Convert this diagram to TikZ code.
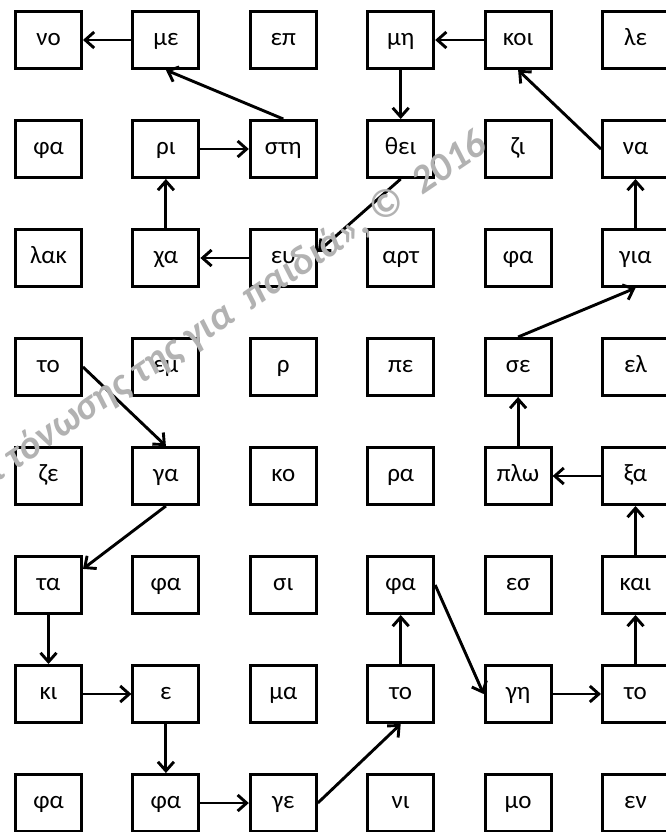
\documentclass[tikz,border=0pt]{standalone}
\usepackage{fontspec}
\setmainfont{Carlito}
\usetikzlibrary{arrows.meta}
\begin{document}
\begin{tikzpicture}[x=1pt,y=-1pt,
  wbox/.style={draw, line width=3pt, minimum width=66pt, minimum height=57pt,
    inner sep=0pt, text height=14pt, text depth=2.4pt,
    font=\fontsize{25}{29}\selectfont},
  arr/.style={line width=2.9pt, -{Straight Barb[length=9pt,width=16pt]}},
  wm/.style={text=black!30, font=\fontsize{40}{44}\selectfont\bfseries\itshape, inner sep=0pt}]
\useasboundingbox (0,0) rectangle (666,832);
\fill[white] (0,0) rectangle (666,832);
\foreach \r/\words in {1/{νο,με,επ,μη,κοι,λε},
                      2/{φα,ρι,στη,θει,ζι,να},
                      3/{λακ,χα,ευ,αρτ,φα,για},
                      4/{το,εμ,ρ,πε,σε,ελ},
                      5/{ζε,γα,κο,ρα,πλω,ξα},
                      6/{τα,φα,σι,φα,εσ,και},
                      7/{κι,ε,μα,το,γη,το},
                      8/{φα,φα,γε,νι,μο,εν}}{
  \foreach \w [count=\c] in \words {
    \node[wbox] (r\r c\c) at ({48.5+117.4*(\c-1)}, {40+109*(\r-1)}) {\w};
  }
}
% path
\draw[arr] (r4c1.east) -- (r5c2.north);
\draw[arr] (r5c2.south) -- (r6c1.25);
\draw[arr] (r6c1) -- (r7c1);
\draw[arr] (r7c1) -- (r7c2);
\draw[arr] (r7c2) -- (r8c2);
\draw[arr] (r8c2) -- (r8c3);
\draw[arr] (r8c3.east) -- (r7c4.south);
\draw[arr] (r7c4) -- (r6c4);
\draw[arr] (r6c4.east) -- (r7c5.west);
\draw[arr] (r7c5) -- (r7c6);
\draw[arr] (r7c6) -- (r6c6);
\draw[arr] (r6c6) -- (r5c6);
\draw[arr] (r5c6) -- (r5c5);
\draw[arr] (r5c5) -- (r4c5);
\draw[arr] (r4c5.north) -- (r3c6.south);
\draw[arr] (r3c6) -- (r2c6);
\draw[arr] (r2c6.west) -- (r1c5.south);
\draw[arr] (r1c5) -- (r1c4);
\draw[arr] (r1c4) -- (r2c4);
\draw[arr] (r2c4.south) -- (r3c3.10);
\draw[arr] (r3c3) -- (r3c2);
\draw[arr] (r3c2) -- (r2c2);
\draw[arr] (r2c2) -- (r2c3);
\draw[arr] (r2c3.north) -- (r1c2.south);
\draw[arr] (r1c2) -- (r1c1);
% watermark
\node[wm, rotate=34, anchor=base east] (wm) at (490,150) {ι τόνωσης της για\ \ παιδιά», ©\ \ 2016};
\end{tikzpicture}
\end{document}
